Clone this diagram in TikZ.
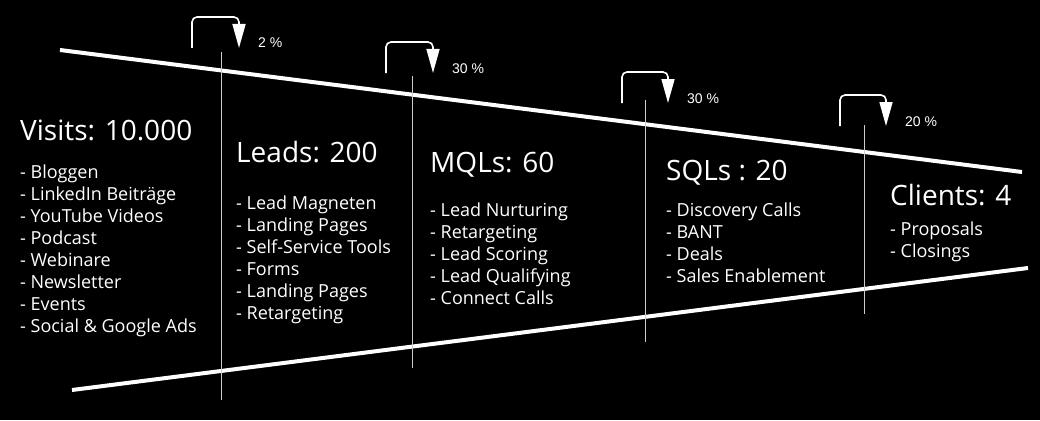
\documentclass[tikz,border=0pt]{standalone}
\usepackage{fontspec}
\setmainfont{Open Sans}
\newfontfamily\pctfont{Liberation Sans}
\usetikzlibrary{arrows.meta}
\begin{document}
\begin{tikzpicture}[x=1pt,y=-1pt]
\tikzstyle{head} = [anchor=base west,inner sep=0pt,text=white,font=\fontsize{28}{28}\selectfont];
\tikzstyle{item} = [anchor=base west,inner sep=0pt,text=white,font=\fontsize{18}{18}\selectfont];
\tikzstyle{pct} = [anchor=base west,inner sep=0pt,text=white,font=\pctfont\fontsize{14}{14}\selectfont];
\tikzstyle{rate} = [draw=white,line width=1.6pt,rounded corners=5pt,-{Triangle[width=13pt,length=24pt]}];
\tikzstyle{edge} = [draw=white,line width=4pt];
\tikzstyle{stage} = [draw=white!80!black,line width=0.8pt];

    \fill[black] (0,0) rectangle (1040,420);

    % funnel
    \coordinate (tl) at (60,50);
    \coordinate (tr) at (1022,172);
    \coordinate (bl) at (72,390);
    \coordinate (br) at (1028,268);
    \draw[edge] (tl) -- (tr);
    \draw[edge] (bl) -- (br);

    % stage borders
    \foreach \x/\a/\b [count=\i] in {221/52/400, 412/76/368, 645/100/342, 864/125/314} {
        \coordinate (s\i) at (\x,\a);
        \coordinate (e\i) at (\x,\b);
        \draw[stage] (s\i) -- (e\i);
    }

    % conversion rates
    \foreach \l/\r/\t/\p [count=\i] in {192/239/17/2, 386/433/42/30, 622/668/72/30, 840/886/95/20} {
        \coordinate (ra\i) at (\l,\t+31);
        \coordinate (rb\i) at (\r,\t+31);
        \draw[rate] (ra\i) -- (\l,\t) -- (\r,\t) -- (rb\i);
        \node (rp\i) at (\r+19,\t+31) [pct] {\p\ \%};
    }

    % stages
    \node (visits) at (20,140) [head] {Visits: 10.000};
    \foreach \t [count=\i] in {Bloggen, LinkedIn Beiträge, YouTube Videos, Podcast, Webinare, Newsletter, Events, Social \& Google Ads}
        \node (v\i) at (20,156+22*\i) [item] {- \t};

    \node (leads) at (236,162) [head] {Leads: 200};
    \foreach \t [count=\i] in {Lead Magneten, Landing Pages, Self-Service Tools, Forms, Landing Pages, Retargeting}
        \node (l\i) at (236,187+22*\i) [item] {- \t};

    \node (mqls) at (430,172) [head] {MQLs: 60};
    \foreach \t [count=\i] in {Lead Nurturing, Retargeting, Lead Scoring, Lead Qualifying, Connect Calls}
        \node (m\i) at (430,194+22*\i) [item] {- \t};

    \node (sqls) at (666,180) [head] {SQLs : 20};
    \foreach \t [count=\i] in {Discovery Calls, BANT, Deals, Sales Enablement}
        \node (q\i) at (666,194+22*\i) [item] {- \t};

    \node (clients) at (890,205) [head] {Clients: 4};
    \foreach \t [count=\i] in {Proposals, Closings}
        \node (c\i) at (890,213+22*\i) [item] {- \t};

\end{tikzpicture}
\end{document}
